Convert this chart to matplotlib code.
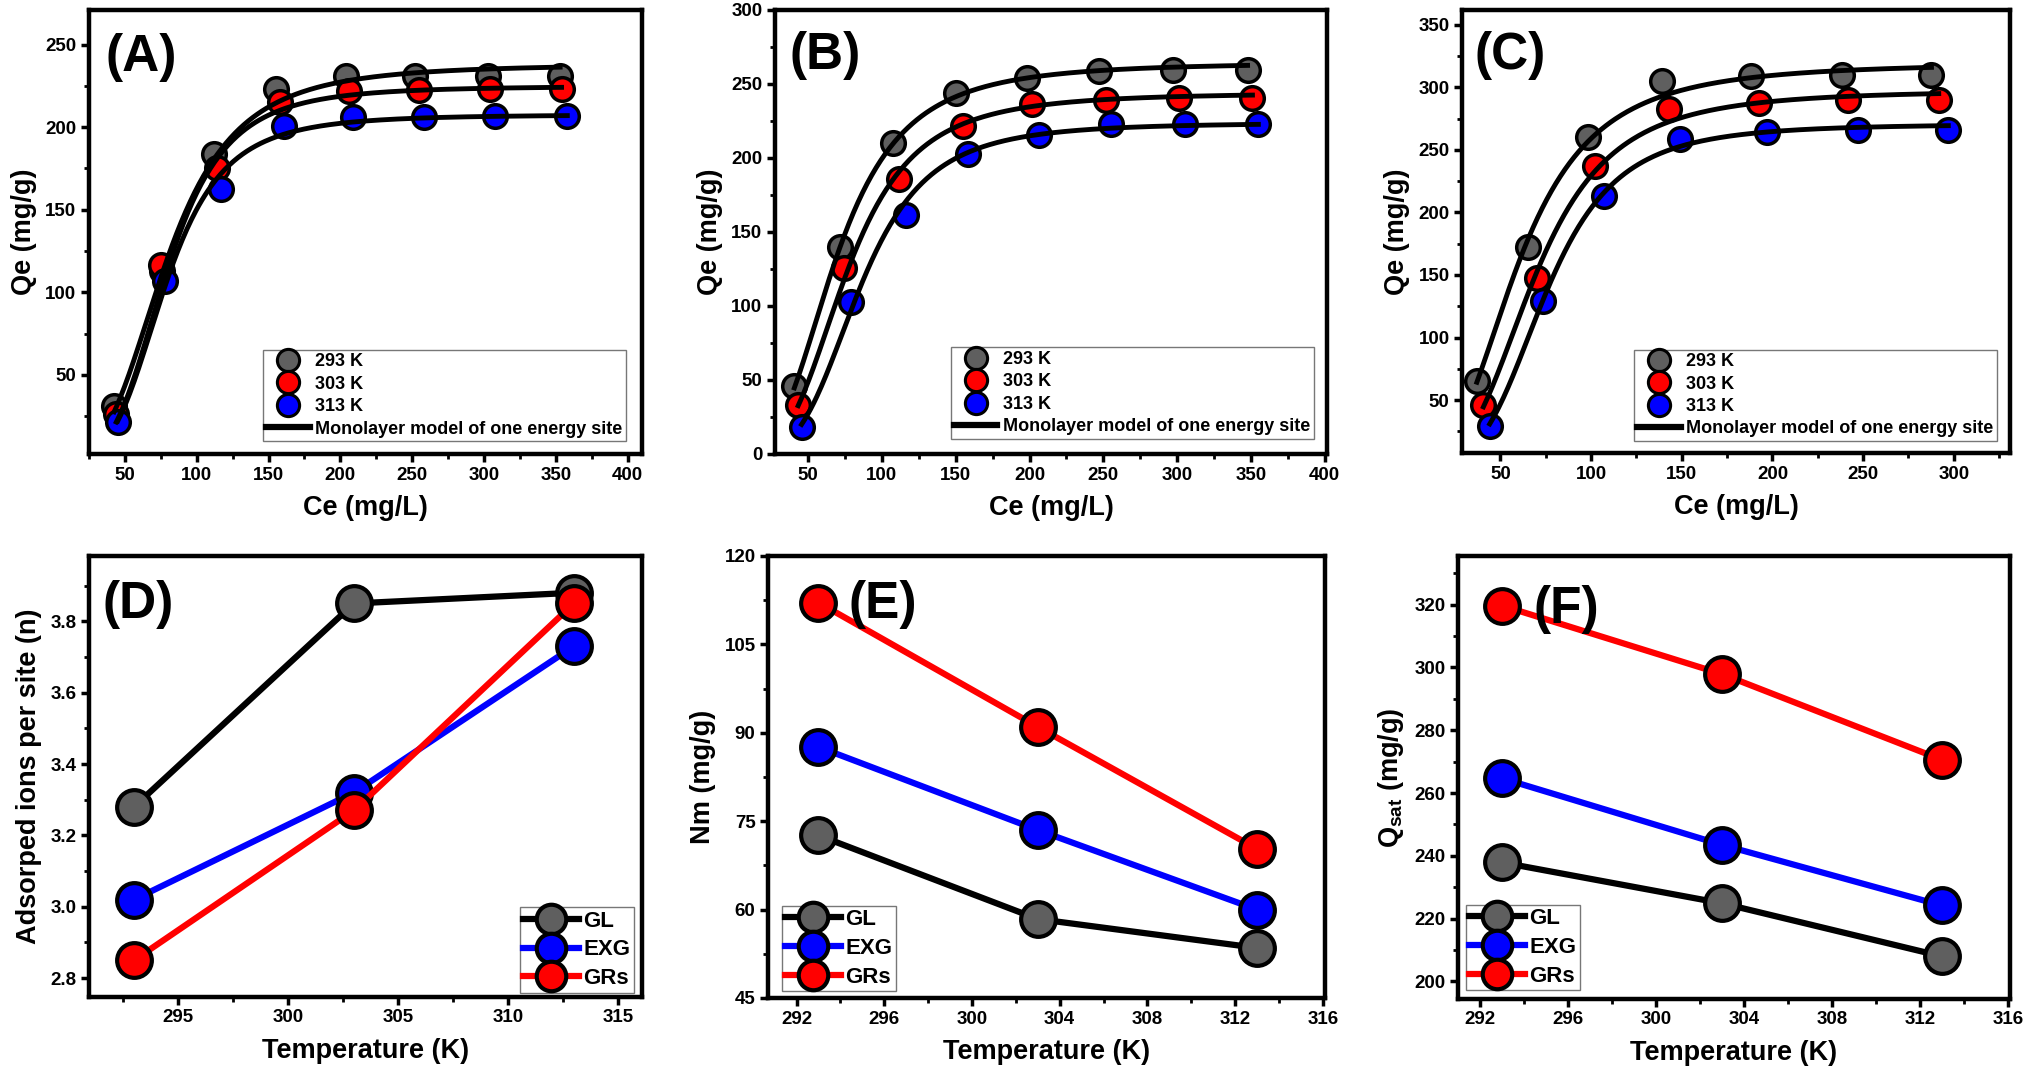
import matplotlib
matplotlib.use("Agg")
import matplotlib.pyplot as plt
from matplotlib.lines import Line2D
from matplotlib.ticker import MultipleLocator
import numpy

plt.rcParams['font.family'] = ['Liberation Sans', 'DejaVu Sans']
plt.rcParams['font.weight'] = 'bold'
plt.rcParams['axes.labelweight'] = 'bold'
plt.rcParams['mathtext.fontset'] = 'custom'
plt.rcParams['mathtext.rm'] = 'Liberation Sans:bold'
plt.rcParams['mathtext.bf'] = 'Liberation Sans:bold'
plt.rcParams['mathtext.default'] = 'bf'

# ---- data ----
temps = [293, 303, 313]
tempLabels = ['293 K', '303 K', '313 K']
materials = ['GL', 'EXG', 'GRs']

# (A) GL isotherms
ceA_293 = [42.5, 76, 112, 155, 204, 252, 303, 353]
qeA_293 = [30.8, 113, 183.5, 223, 231, 231, 231, 231]
ceA_303 = [44, 75, 114, 158, 206, 255, 304, 354]
qeA_303 = [26, 116.5, 175, 215, 222, 222.5, 223, 223]
ceA_313 = [45, 78, 117, 161, 209, 258, 308, 358]
qeA_313 = [21.5, 107, 162.5, 200.6, 206, 206, 207, 207]

# (B) EXG isotherms
ceB_293 = [40.7, 71.8, 107.7, 150.3, 198.5, 247.4, 297.5, 347.7]
qeB_293 = [45.9, 139.8, 209.8, 244, 254, 259, 259.7, 259.7]
ceB_303 = [43.3, 74, 111.8, 155, 202, 251.5, 301, 351]
qeB_303 = [33.2, 126, 185.7, 221.6, 236.7, 239.5, 240.7, 240.7]
ceB_313 = [45.6, 79, 116.3, 158.3, 206.5, 255.5, 305, 355]
qeB_313 = [18.5, 102.7, 161.8, 202.4, 215.6, 223.3, 223.3, 223.3]

# (C) GRs isotherms
ceC_293 = [37, 65.3, 98.3, 138.9, 188, 238.2, 287.7]
qeC_293 = [65, 172.5, 260.4, 304.6, 308.7, 310, 310]
ceC_303 = [40.6, 70, 102.4, 143.2, 192.7, 241.7, 291.7]
qeC_303 = [46, 148, 237.3, 282.8, 287.7, 289.6, 289.6]
ceC_313 = [44.1, 73.6, 107.3, 149, 196.9, 247, 297]
qeC_313 = [29.7, 129.6, 212.9, 258.9, 264.3, 265.7, 265.7]

# model parameters (D, E, F) at 293, 303, 313 K
n_GL = [3.28, 3.85, 3.88]
n_EXG = [3.02, 3.32, 3.73]
n_GRs = [2.85, 3.27, 3.85]
Nm_GL = [72.6, 58.4, 53.5]
Nm_EXG = [87.6, 73.5, 60.0]
Nm_GRs = [112.1, 91.0, 70.3]
Qsat_GL = [237.9, 224.9, 208.0]
Qsat_EXG = [264.7, 243.5, 224.2]
Qsat_GRs = [319.7, 297.9, 270.6]
# half saturation concentration (estimated from the curves)
chalf_GL = [79, 79, 78]
chalf_EXG = [69, 76, 85]
chalf_GRs = [60, 69, 75]

markerColors = ['#5f5f5f', '#ff0000', '#0000ff']
lineColors = ['black', '#0000ff', '#ff0000']
paramFill = ['#5f5f5f', '#0000ff', '#ff0000']


def Monolayer(ce, n, nm, chalf):
    # monolayer model of one energy site
    return n*nm/(1 + (chalf/ce)**n)


def StyleAxis(ax, xmaj, xmin, ymaj, ymin):
    for s in ax.spines.values():
        s.set_linewidth(3.2)
    ax.xaxis.set_major_locator(MultipleLocator(xmaj))
    ax.xaxis.set_minor_locator(MultipleLocator(xmin))
    ax.yaxis.set_major_locator(MultipleLocator(ymaj))
    ax.yaxis.set_minor_locator(MultipleLocator(ymin))
    ax.tick_params(which='major', direction='out', length=6, width=2.5, labelsize=13.5, pad=3)
    ax.tick_params(which='minor', direction='out', length=3.5, width=2)


def DrawIsotherm(ax, ces, qes, ns, nms, chalfs, letter, xlim, ylim, xmaj, ymaj, letterPos, legAnchor):
    for i in range(3):
        ax.plot(ces[i], qes[i], 'o', color=markerColors[i], markersize=17,
                markeredgecolor='black', markeredgewidth=2.5, zorder=2)
    for i in range(3):
        x = numpy.linspace(ces[i][0], ces[i][-1], 300)
        ax.plot(x, Monolayer(x, ns[i], nms[i], chalfs[i]), color='black', lw=3.5, zorder=3)
    ax.set_xlim(xlim)
    ax.set_ylim(ylim)
    StyleAxis(ax, xmaj, xmaj/2, ymaj, ymaj/2)
    ax.set_xlabel('Ce (mg/L)', fontsize=19.5, labelpad=8)
    ax.set_ylabel('Qe (mg/g)', fontsize=19.5, labelpad=6)
    ax.text(letterPos[0], letterPos[1], letter, transform=ax.transAxes, fontsize=37,
            fontweight='bold', ha='left', va='center')

    handles = []
    for i in range(3):
        handles.append(Line2D([], [], ls='none', marker='o', color=markerColors[i], markersize=16,
                              markeredgecolor='black', markeredgewidth=2.2, label=tempLabels[i]))
    handles.append(Line2D([], [], color='black', lw=4.5, label='Monolayer model of one energy site'))
    leg = ax.legend(handles=handles, loc='lower right', bbox_to_anchor=legAnchor,
                    borderaxespad=0, fontsize=13, frameon=True, fancybox=False,
                    edgecolor='#555555', handlelength=2.4, handletextpad=0.3,
                    labelspacing=0.3, borderpad=0.2)
    leg.get_frame().set_linewidth(1.0)


def DrawParam(ax, vals, ylabel, letter, xlim, ylim, xmaj, xmin, ymaj, ymin, legLoc, legAnchor, letterPos):
    for i in range(3):
        ax.plot(temps, vals[i], '-o', color=lineColors[i], lw=4.5, markersize=25,
                markerfacecolor=paramFill[i], markeredgecolor='black',
                markeredgewidth=3, label=materials[i])
    ax.set_xlim(xlim)
    ax.set_ylim(ylim)
    StyleAxis(ax, xmaj, xmin, ymaj, ymin)
    ax.set_xlabel('Temperature (K)', fontsize=19.5, labelpad=8)
    ax.set_ylabel(ylabel, fontsize=19.5, labelpad=6)
    ax.text(letterPos[0], letterPos[1], letter, transform=ax.transAxes, fontsize=37,
            fontweight='bold', ha='left', va='center')
    leg = ax.legend(loc=legLoc, bbox_to_anchor=legAnchor, borderaxespad=0, fontsize=16,
                    frameon=True, fancybox=False, edgecolor='#555555', markerscale=0.85,
                    handlelength=2.5, handletextpad=0.2, labelspacing=0.35, borderpad=0.15)
    leg.get_frame().set_linewidth(1.0)


fig = plt.figure(figsize=(20.32, 10.8), dpi=100)

W, H = 2032.0, 1080.0
axA = fig.add_axes([89/W, 1 - 454/H, 553/W, 444/H])
axB = fig.add_axes([775/W, 1 - 454/H, 552/W, 444/H])
axC = fig.add_axes([1462/W, 1 - 453/H, 548/W, 443/H])
axD = fig.add_axes([89/W, 1 - 997/H, 553/W, 441/H])
axE = fig.add_axes([768/W, 1 - 998/H, 557/W, 442/H])
axF = fig.add_axes([1458/W, 1 - 999/H, 552/W, 443/H])

DrawIsotherm(axA, [ceA_293, ceA_303, ceA_313], [qeA_293, qeA_303, qeA_313],
             n_GL, Nm_GL, chalf_GL, '(A)', (25, 410), (2, 271), 50, 50,
             (0.029, 0.892), (0.971, 0.029))
DrawIsotherm(axB, [ceB_293, ceB_303, ceB_313], [qeB_293, qeB_303, qeB_313],
             n_EXG, Nm_EXG, chalf_EXG, '(B)', (27.6, 401.5), (0, 300), 50, 50,
             (0.027, 0.897), (0.976, 0.034))
DrawIsotherm(axC, [ceC_293, ceC_303, ceC_313], [qeC_293, qeC_303, qeC_313],
             n_GRs, Nm_GRs, chalf_GRs, '(C)', (28.8, 331), (7.8, 361.7), 50, 50,
             (0.022, 0.897), (0.976, 0.027))

DrawParam(axD, [n_GL, n_EXG, n_GRs], 'Adsorped ions per site (n)', '(D)',
          (290.95, 316.1), (2.747, 3.983), 5, 2.5, 0.2, 0.1,
          'lower right', (0.985, 0.01), (0.025, 0.889))
DrawParam(axE, [Nm_GL, Nm_EXG, Nm_GRs], 'Nm (mg/g)', '(E)',
          (290.7, 316.1), (45, 120), 4, 2, 15, 7.5,
          'lower left', (0.025, 0.016), (0.144, 0.891))
DrawParam(axF, [Qsat_GL, Qsat_EXG, Qsat_GRs], 'Q$_{sat}$ (mg/g)', '(F)',
          (291, 316.1), (194.4, 335.5), 4, 2, 20, 10,
          'lower left', (0.0145, 0.02), (0.136, 0.879))

fig.savefig('out.png', dpi=100)
